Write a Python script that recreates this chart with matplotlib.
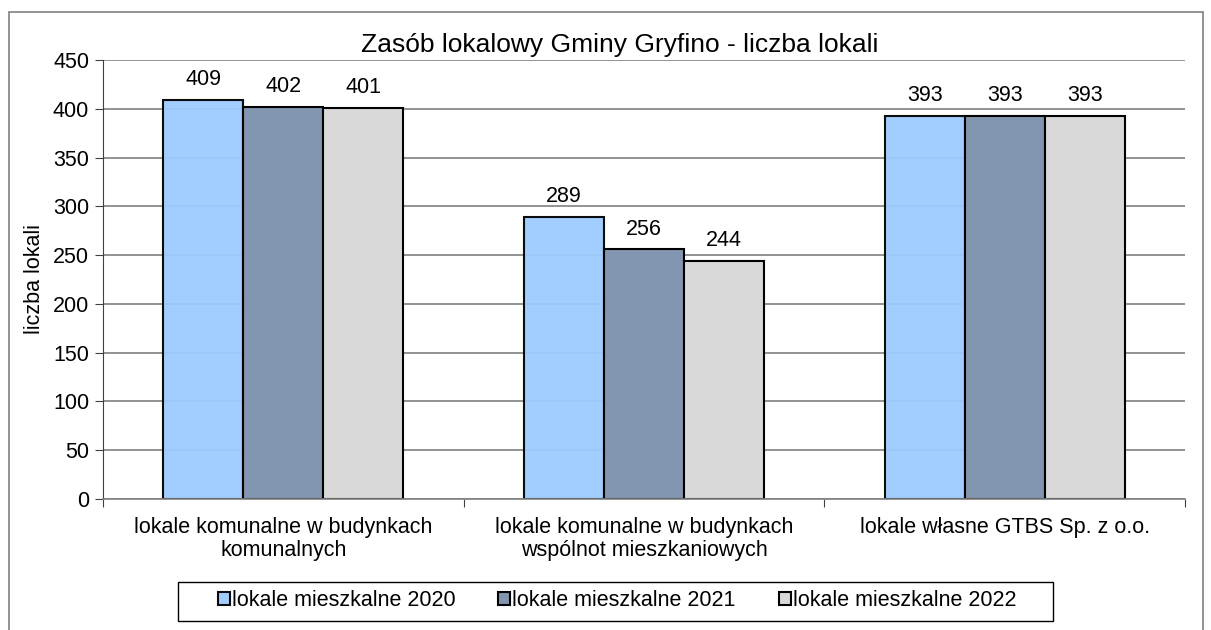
import numpy as np
import matplotlib.pyplot as plt
from matplotlib.patches import Rectangle

plt.rcParams['font.family'] = ['Liberation Sans', 'DejaVu Sans']

categories = ["lokale komunalne w budynkach\nkomunalnych",
              "lokale komunalne w budynkach\nwspólnot mieszkaniowych",
              "lokale własne GTBS Sp. z o.o."]
series_names = ["lokale mieszkalne 2020", "lokale mieszkalne 2021", "lokale mieszkalne 2022"]
values_2020 = [409, 289, 393]
values_2021 = [402, 256, 393]
values_2022 = [401, 244, 393]
colors = ["#9DCBFF", "#8396B0", "#D9D9D9"]

W, H = 1211, 630
fig = plt.figure(figsize=(W / 100, H / 100), dpi=100)
# outer frame of the chart area
fig.patches.append(Rectangle((9 / W, -0.05), 1194 / W, 1.05 - 12 / H,
                             transform=fig.transFigure, fill=False,
                             edgecolor="#808080", linewidth=1.2))
# legend frame (drawn by hand, wider padding than matplotlib's legend)
fig.patches.append(Rectangle((178 / W, 1 - 621 / H), 875 / W, 39 / H,
                             transform=fig.transFigure, fill=False,
                             edgecolor="black", linewidth=1.0))

ax = fig.add_axes([103 / W, 1 - 499 / H, 1082 / W, 439 / H])

x = np.arange(len(categories))
w = 0.222
all_series = [values_2020, values_2021, values_2022]
for i, (vals, name, col) in enumerate(zip(all_series, series_names, colors)):
    pos = x + (i - 1) * w
    ax.bar(pos, vals, w, color=col, edgecolor="black", linewidth=1.5,
           label=name, zorder=2, alpha=0.95 if i == 0 else 1)
    for p, v in zip(pos, vals):
        ax.annotate(str(v), (p, v), xytext=(0, 7), textcoords="offset points",
                    ha="center", va="bottom", fontsize=15.5)

ax.set_xlim(-0.5, 2.5)
ax.set_ylim(0, 450)
ax.set_yticks(range(0, 451, 50))
ax.yaxis.grid(True, color="#808080", linewidth=1.2, zorder=0)
ax.set_axisbelow(True)
ax.set_xticks([-0.5, 0.5, 1.5, 2.5])
ax.set_xticklabels([])
ax.set_xticks(x, minor=True)
ax.set_xticklabels(categories, minor=True, fontsize=15.5, linespacing=1.15)
ax.tick_params(axis="x", which="minor", length=0, pad=13)
ax.tick_params(axis="x", which="major", length=6, color="#404040")
ax.tick_params(axis="y", labelsize=15.5, length=6, color="#404040", pad=4)
for s in ["top", "right"]:
    ax.spines[s].set_visible(False)
ax.spines["left"].set_color("#404040")
ax.spines["bottom"].set_color("#808080")
ax.spines["bottom"].set_linewidth(1.2)

ax.set_ylabel("liczba lokali", fontsize=15.5, labelpad=6)
fig.text(620 / W, 1 - 45 / H, "Zasób lokalowy Gminy Gryfino - liczba lokali",
         ha="center", va="center", fontsize=19)

fig.legend(loc="center", bbox_to_anchor=(617 / W, 1 - 601 / H), ncol=3,
           fontsize=15.5, frameon=False,
           handlelength=0.55, handleheight=0.55, handletextpad=0.1,
           columnspacing=2.0, borderpad=0.35)

fig.savefig("out.png", dpi=100)
